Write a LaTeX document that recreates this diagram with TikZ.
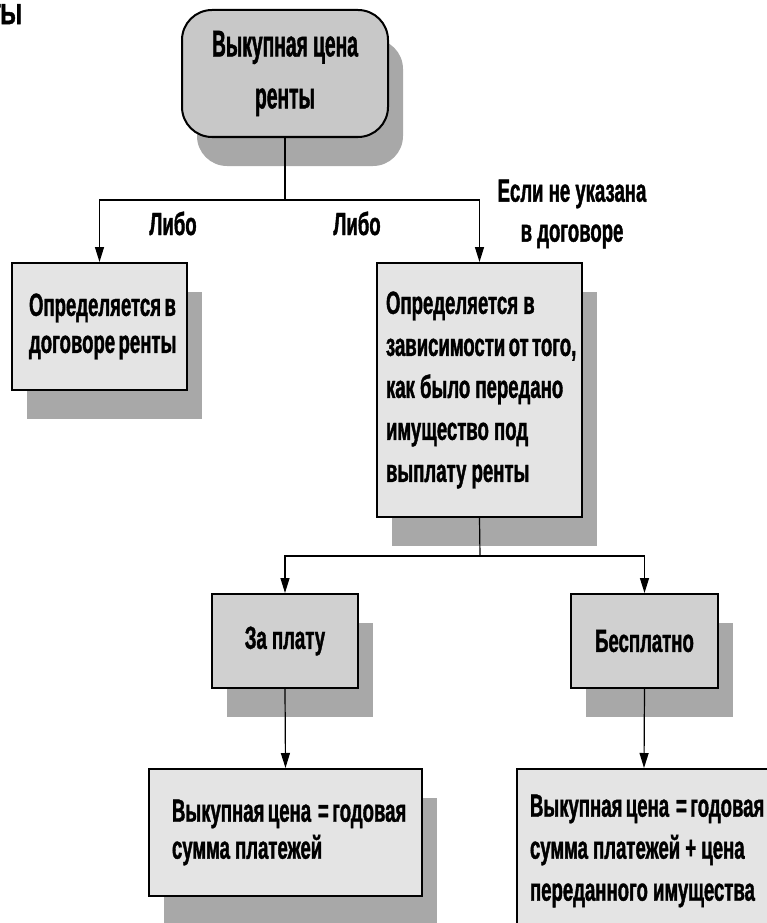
\documentclass[tikz,border=0pt]{standalone}
\usepackage{fontspec}
\setmainfont{Liberation Sans}[FakeStretch=0.58,BoldFeatures={FakeBold=1.2}]
\newfontfamily\topfont{Liberation Sans}[FakeStretch=0.52,BoldFeatures={FakeBold=1.2}]
\newfontfamily\cutfont{Liberation Sans}[FakeStretch=0.75,BoldFeatures={FakeBold=1.5}]
\usetikzlibrary{arrows.meta,shadows}
\definecolor{shade}{RGB}{168,168,168}
\definecolor{topfill}{RGB}{200,200,200}
\definecolor{lightfill}{RGB}{228,228,228}
\definecolor{midfill}{RGB}{208,208,208}

\begin{document}
\begin{tikzpicture}[x=1pt,y=-1pt,
	box/.style={draw,line width=2pt,fill=#1,inner sep=0pt,
		drop shadow={shadow xshift=15pt,shadow yshift=-29pt,fill=shade,opacity=1},
		font=\bfseries\fontsize{32}{42}\selectfont},
	tight/.style={font=\bfseries\fontsize{32}{37}\selectfont},
	lbl/.style={inner sep=0pt,font=\bfseries\fontsize{32}{40}\selectfont},
	arr/.style={-{Triangle[length=15pt,width=9pt]},line width=1.2pt},
	wire/.style={line width=1.2pt}]
	\useasboundingbox (0,0) rectangle (766,923);
	\node[inner sep=0pt,anchor=north east,font=\cutfont\bfseries\fontsize{29}{29}\selectfont] (head) at (22,4) {ТЫ};
	% top
	\node[box=topfill,rounded corners=30pt,minimum width=206pt,minimum height=127pt,
		align=center,font=\topfont\bfseries\fontsize{37}{52}\selectfont] (price) at (285,73.5)
		{Выкупная цена\\ренты};
	\node[box=lightfill,tight,minimum width=175pt,minimum height=127pt,text width=141pt,align=flush left] (contract) at (99.5,326.5)
		{Определяется~в\\договоре~ренты};
	\node[box=lightfill,minimum width=205pt,minimum height=254pt,text width=187pt,align=flush left] (depend) at (479.5,390)
		{Определяется~в\\зависимости~от~того,\\как~было~передано\\имущество~под\\выплату~ренты};
	\coordinate (bus1) at (285,200);
	\draw[wire] (price.south) -- (bus1);
	\draw[arr] (bus1) -| (contract.north);
	\draw[arr] (bus1) -| (depend.north);
	\node[lbl,anchor=base] (either1) at (173,235) {Либо};
	\node[lbl,anchor=base] (either2) at (357,235) {Либо};
	\node[lbl,align=center] (unset) at (572,214) {Если не указана\\в договоре};
	% second level
	\node[box=midfill,minimum width=146pt,minimum height=94pt] (paid) at (285,641) {За плату};
	\node[box=midfill,minimum width=147pt,minimum height=94pt] (free) at (644.5,641) {Бесплатно};
	\coordinate (bus2) at (480,556);
	\draw[wire] (depend.south) -- (bus2);
	\draw[arr] (bus2) -| (paid.north);
	\draw[arr] (bus2) -| (free.north);
	% bottom
	\node[box=lightfill,tight,minimum width=273pt,minimum height=127pt,text width=227pt,align=flush left] (sum1) at (285.5,832.5)
		{Выкупная~цена~~=~годовая\\сумма~платежей};
	\node[box=lightfill,minimum width=254pt,minimum height=164pt,text width=228pt,align=flush left] (sum2) at (644,851)
		{Выкупная~цена~~=~годовая\\сумма~платежей~+~цена\\переданного~имущества};
	\draw[arr] (paid.south) -- (sum1.north);
	\draw[arr] (free.south) -- (sum2.north);
\end{tikzpicture}
\end{document}
